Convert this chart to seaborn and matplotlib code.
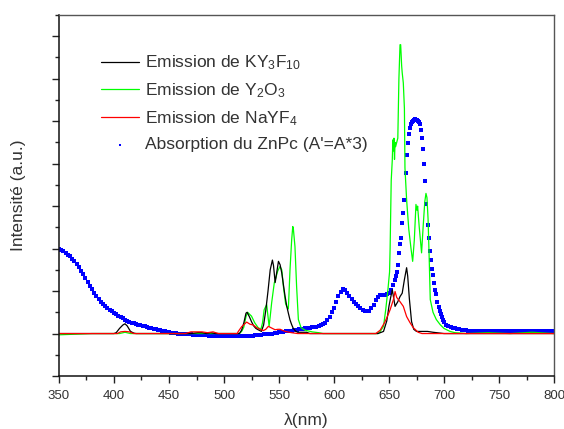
import numpy as np
import pandas as pd
import matplotlib
matplotlib.use("Agg")
import matplotlib.pyplot as plt
import seaborn as sns

# === Absorption du ZnPc (A'=A*3) ===
abs_wl_a = np.arange(350, 655, 2)
abs_a = [
    2.00, 1.97, 1.94, 1.90, 1.86, 1.82, 1.76, 1.70, 1.63, 1.56,
    1.48, 1.40, 1.31, 1.22, 1.13, 1.04, 0.96, 0.89, 0.82, 0.75,
    0.70, 0.65, 0.60, 0.56, 0.52, 0.49, 0.45, 0.42, 0.39, 0.36,
    0.33, 0.30, 0.28, 0.26, 0.24, 0.22, 0.21, 0.19, 0.18, 0.17,
    0.15, 0.14, 0.13, 0.11, 0.10, 0.09, 0.08, 0.06, 0.05, 0.04,
    0.03, 0.02, 0.01, 0.01, 0.00, 0.00, -0.01, -0.01, -0.02, -0.02,
    -0.02, -0.03, -0.03, -0.03, -0.04, -0.04, -0.04, -0.04, -0.05, -0.05,
    -0.05, -0.05, -0.05, -0.06, -0.06, -0.06, -0.06, -0.06, -0.06, -0.06,
    -0.06, -0.06, -0.05, -0.05, -0.05, -0.05, -0.05, -0.05, -0.05, -0.04,
    -0.04, -0.03, -0.03, -0.02, -0.02, -0.01, 0.00, 0.00, 0.01, 0.02,
    0.03, 0.04, 0.04, 0.05, 0.06, 0.07, 0.07, 0.08, 0.09, 0.10,
    0.10, 0.11, 0.12, 0.13, 0.14, 0.15, 0.15, 0.16, 0.17, 0.19,
    0.22, 0.26, 0.32, 0.40, 0.50, 0.60, 0.74, 0.88, 0.99, 1.05,
    1.02, 0.96, 0.89, 0.81, 0.75, 0.70, 0.64, 0.60, 0.56, 0.53,
    0.52, 0.53, 0.60, 0.68, 0.80, 0.87, 0.91, 0.91, 0.91, 0.92,
    0.95, 1.02, 1.15,
]
abs_wl_b = np.arange(655, 701, 1)
abs_b = [
    1.25, 1.35, 1.46, 1.62, 1.90, 2.12, 2.25, 2.60, 2.85, 3.15,
    3.78, 4.20, 4.48, 4.70, 4.85, 4.93, 4.98, 5.01, 5.03, 5.04,
    5.03, 5.01, 4.98, 4.93, 4.80, 4.60, 4.35, 4.00, 3.60, 3.05,
    2.56, 2.25, 1.95, 1.72, 1.52, 1.38, 1.18, 1.03, 0.92, 0.75,
    0.62, 0.52, 0.45, 0.38, 0.31, 0.27,
]
abs_wl_c = np.arange(702, 801, 2)
abs_c = [
    0.21, 0.17, 0.15, 0.13, 0.12, 0.11, 0.10, 0.09, 0.09, 0.08,
    0.07, 0.07, 0.07, 0.07, 0.07, 0.06, 0.06, 0.06, 0.06, 0.06,
    0.06, 0.06, 0.06, 0.06, 0.06, 0.05, 0.05, 0.05, 0.05, 0.05,
    0.05, 0.05, 0.05, 0.05, 0.05, 0.05, 0.05, 0.05, 0.05, 0.05,
    0.05, 0.05, 0.05, 0.05, 0.05, 0.05, 0.05, 0.05, 0.05, 0.05,
]

# === Emission de KY3F10 ===
ky_wl = [350, 400, 402, 405, 408, 410, 412, 415, 418, 420, 470, 476, 480, 484,
         488, 492, 514, 516, 518, 520, 521, 523, 525, 527, 529, 531, 534, 536,
         538, 540, 542, 544, 545, 546.5, 548, 549.5, 551, 552.5, 554, 555.5,
         557, 558.5, 560, 561.5, 563, 565, 567, 575, 578, 640, 645, 648, 650,
         651.5, 653, 655.5, 658, 660, 662, 664, 666, 667, 668.5, 670.5, 672.5,
         675, 680, 685, 690, 700, 800]
ky_val = [0.00, 0.00, 0.02, 0.12, 0.20, 0.23, 0.18, 0.05, 0.01, 0.00, 0.00, 0.02,
          0.02, 0.00, 0.02, 0.00, 0.00, 0.08, 0.25, 0.48, 0.50, 0.40, 0.28, 0.18,
          0.12, 0.09, 0.05, 0.20, 0.55, 1.00, 1.50, 1.73, 1.60, 1.20, 1.45, 1.70,
          1.62, 1.43, 1.15, 0.88, 0.65, 0.48, 0.32, 0.21, 0.12, 0.06, 0.03, 0.03,
          0.00, 0.00, 0.05, 0.30, 0.65, 0.85, 1.03, 0.64, 0.75, 0.87, 0.95, 1.27,
          1.55, 1.35, 0.82, 0.28, 0.10, 0.05, 0.05, 0.05, 0.03, 0.00, 0.00]

# === Emission de Y2O3 ===
yo_wl = [350, 360, 380, 405, 410, 415, 500, 514, 516, 518, 520, 521.5, 523, 525,
         528, 531, 533.5, 535, 536.5, 538.8, 540, 541, 542, 543.3, 545.7, 547,
         548.8, 550.9, 552.5, 554, 556, 557, 558.5, 560, 561.5, 562.5, 563,
         564.5, 566, 567.6, 570, 573.6, 580, 586, 590, 640, 642, 645, 647, 649,
         650.5, 651, 652, 653, 653.5, 654, 654.5, 655, 655.5, 656, 657, 658,
         659, 660, 660.6, 661.5, 662, 663, 664, 664.5, 666, 668, 670, 671.5,
         673, 674.5, 675.5, 676, 677.5, 679.6, 681, 682.5, 683.6, 684.5, 685.5,
         686.5, 687.5, 690, 693, 696.5, 700, 705.5, 710, 720, 740, 760, 780, 800]
yo_val = [-0.03, -0.02, 0.00, 0.00, 0.03, 0.00, 0.00, 0.00, 0.05, 0.15, 0.40,
          0.50, 0.46, 0.41, 0.25, 0.14, 0.10, 0.25, 0.56, 0.68, 0.40, 0.17, 0.40,
          0.72, 1.19, 1.30, 1.47, 1.58, 1.50, 1.11, 0.70, 0.64, 0.58, 1.50, 2.20,
          2.52, 2.48, 2.05, 1.11, 0.33, 0.14, 0.08, 0.04, 0.02, 0.00, 0.00, 0.05,
          0.17, 0.56, 1.03, 1.45, 2.00, 3.60, 4.10, 4.56, 4.30, 4.60, 4.10, 4.50,
          4.40, 4.50, 4.60, 6.00, 6.80, 6.80, 6.30, 6.14, 5.90, 5.30, 3.90, 3.15,
          2.45, 2.00, 1.70, 2.20, 3.04, 2.90, 3.00, 2.50, 1.90, 2.50, 3.10, 3.30,
          3.20, 2.70, 1.80, 0.80, 0.50, 0.33, 0.21, 0.12, 0.05, 0.02, 0.00, 0.02,
          0.00, 0.03, 0.00]

# === Emission de NaYF4 ===
na_wl = [350, 403, 406, 410, 414, 418, 465, 470, 480, 485, 490, 495, 512, 513,
         516, 520.6, 523.6, 526.7, 529.7, 532.7, 535.8, 538, 540.3, 543.3, 546.4,
         549, 551, 555.5, 561.5, 567, 638, 642, 646, 648.5, 651, 654, 655.5, 657,
         660, 663, 666, 669, 672, 676.5, 680, 800]
na_val = [0.00, 0.00, 0.04, 0.05, 0.04, 0.00, 0.00, 0.04, 0.04, 0.02, 0.04, 0.00,
          0.00, 0.05, 0.16, 0.27, 0.22, 0.20, 0.14, 0.10, 0.07, 0.10, 0.17, 0.13,
          0.09, 0.10, 0.10, 0.05, 0.02, 0.00, 0.00, 0.08, 0.26, 0.40, 0.56, 0.80,
          0.99, 0.85, 0.75, 0.64, 0.40, 0.26, 0.14, 0.03, 0.00, 0.00]

labels = [r"Emission de KY$_3$F$_{10}$", r"Emission de Y$_2$O$_3$",
          r"Emission de NaYF$_4$", "Absorption du ZnPc (A'=A*3)"]


def main():
    sns.set_style("ticks")
    plt.rcParams["font.family"] = ["Liberation Sans", "DejaVu Sans"]
    plt.rcParams["mathtext.fontset"] = "custom"
    plt.rcParams["mathtext.rm"] = "Liberation Sans"
    plt.rcParams["mathtext.it"] = "Liberation Sans:italic"
    plt.rcParams["mathtext.bf"] = "Liberation Sans:bold"

    absorption = pd.DataFrame({
        "wl": np.concatenate([abs_wl_a, abs_wl_b, abs_wl_c]),
        "val": np.concatenate([abs_a, abs_b, abs_c]),
    })

    fig = plt.figure(figsize=(5.64, 4.29), dpi=100)
    ax = fig.add_axes([0.1046, 0.1235, 0.8777, 0.8415])

    sns.lineplot(x=yo_wl, y=yo_val, ax=ax, color="#00ff00", lw=0.9, label=labels[1])
    sns.lineplot(x=ky_wl, y=ky_val, ax=ax, color="black", lw=0.9, label=labels[0])
    sns.lineplot(x=na_wl, y=na_val, ax=ax, color="#ff0000", lw=0.9, label=labels[2])
    sns.scatterplot(data=absorption, x="wl", y="val", ax=ax, color="#0000ff",
                    marker="s", s=9, linewidth=0, label=labels[3])

    # legend in the original order
    handles, labs = ax.get_legend_handles_labels()
    order = [labs.index(l) for l in labels]
    ax.legend([handles[i] for i in order], labels, loc="upper left",
              bbox_to_anchor=(0.084, 0.893), frameon=False, fontsize=12.5,
              handlelength=2.2, handletextpad=0.37, labelspacing=0.53,
              borderaxespad=0, borderpad=0, scatterpoints=1, markerscale=0.55,
              labelcolor="#333333")

    ax.set_xlim(350, 800)
    ax.set_ylim(-1, 7.5)
    ax.set_xticks(np.arange(350, 801, 50))
    ax.set_xticks(np.arange(375, 800, 50), minor=True)
    ax.set_yticks(np.arange(-1, 8, 1))
    ax.set_yticks(np.arange(-0.5, 7.6, 1), minor=True)
    ax.set_yticklabels([])
    ax.tick_params(axis="both", which="major", length=5, width=1, color="#222222",
                   labelsize=9.5, labelcolor="#333333", pad=5)
    ax.tick_params(axis="both", which="minor", length=3, width=1, color="#222222")

    ax.set_xlabel("λ(nm)", fontsize=12.5, color="#333333", labelpad=8)
    ax.set_ylabel("Intensité (a.u.)", fontsize=12.5, color="#333333", labelpad=14)

    for side in ["left", "bottom"]:
        ax.spines[side].set_color("#111111")
        ax.spines[side].set_linewidth(1.1)
    for side in ["top", "right"]:
        ax.spines[side].set_visible(True)
        ax.spines[side].set_color("#555555")
        ax.spines[side].set_linewidth(1.0)

    fig.savefig("out.png", dpi=100)


if __name__ == "__main__":
    main()
